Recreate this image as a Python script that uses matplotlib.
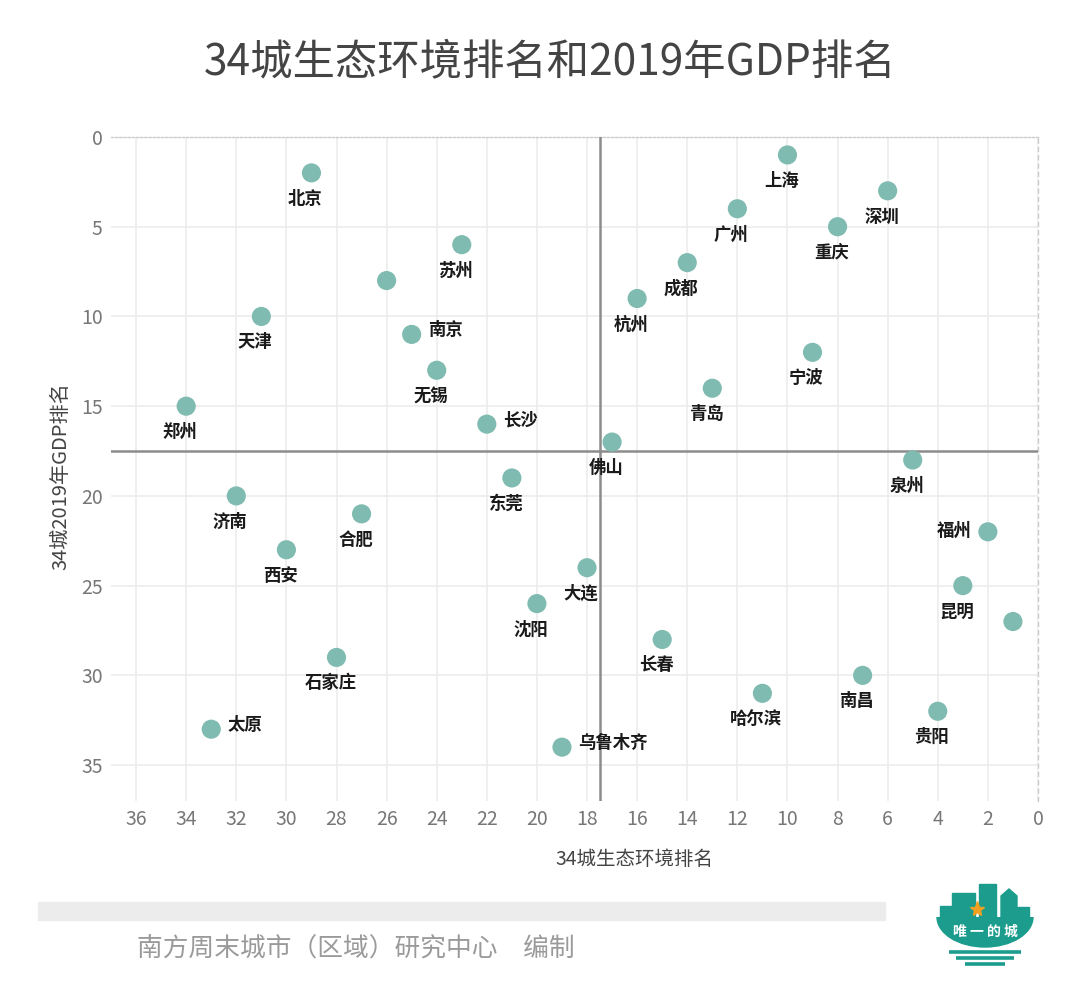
import matplotlib
matplotlib.use("Agg")
import matplotlib.pyplot as plt
from matplotlib.patches import Rectangle, Polygon, Ellipse

plt.rcParams["font.family"] = ["Noto Sans CJK SC", "DejaVu Sans"]

# ---------------------------------------------------------------------------
# Data: (eco ranking, 2019 GDP ranking)
# ---------------------------------------------------------------------------
cities = ["北京", "上海", "深圳", "广州", "重庆", "苏州", "成都", "", "杭州",
          "天津", "南京", "宁波", "无锡", "青岛", "郑州", "长沙", "佛山", "泉州",
          "东莞", "济南", "合肥", "福州", "西安", "大连", "昆明", "沈阳", "",
          "长春", "石家庄", "南昌", "哈尔滨", "贵阳", "太原", "乌鲁木齐"]
eco_rank = [29, 10, 6, 12, 8, 23, 14, 26, 16,
            31, 25, 9, 24, 13, 34, 22, 17, 5,
            21, 32, 27, 2, 30, 18, 3, 20, 1,
            15, 28, 7, 11, 4, 33, 19]
gdp_rank = [2, 1, 3, 4, 5, 6, 7, 8, 9,
            10, 11, 12, 13, 14, 15, 16, 17, 18,
            19, 20, 21, 22, 23, 24, 25, 26, 27,
            28, 29, 30, 31, 32, 33, 34]
# label placement: "b" below, "r" right, "l" left
label_side = ["b", "b", "b", "b", "b", "b", "b", "b", "b",
              "b", "r", "b", "b", "b", "b", "r", "b", "b",
              "b", "b", "b", "l", "b", "b", "b", "b", "b",
              "b", "b", "b", "b", "b", "r", "r"]

x_ticks = list(range(36, -1, -2))
y_ticks = [0, 5, 10, 15, 20, 25, 30, 35]
split = 17.5

DOT = "#7fbbb0"
TEAL = "#1b9c8d"

fig = plt.figure(figsize=(10.8, 9.97), dpi=100)
ax = fig.add_axes([0.1028, 0.1966, 0.8583, 0.666])

ax.scatter(eco_rank, gdp_rank, s=190, color=DOT, edgecolors="none", zorder=5)

for name, x, y, side in zip(cities, eco_rank, gdp_rank, label_side):
    if not name:
        continue
    if side == "b":
        off, ha, va = (-6, -26), "center", "center"
    elif side == "r":
        off, ha, va = (16, 4), "left", "center"
    else:
        off, ha, va = (-16, 1), "right", "center"
    ax.annotate(name, (x, y), xytext=off, textcoords="offset pixels",
                ha=ha, va=va, fontsize=12.5, color="#1a1a1a",
                fontweight="bold", zorder=6)

ax.axvline(split, color="#8c8c8c", lw=1.8, zorder=3)
ax.axhline(split, color="#8c8c8c", lw=1.8, zorder=3)

ax.set_xlim(37, 0)
ax.set_ylim(37, 0)
ax.set_xticks(x_ticks)
ax.set_yticks(y_ticks)
ax.grid(True, color="#ececec", lw=1.2, zorder=0)
ax.set_axisbelow(True)
ax.tick_params(length=0, labelsize=14, labelcolor="#777777")
ax.tick_params(axis="x", pad=6)
ax.tick_params(axis="y", pad=6)

for side in ["left", "bottom"]:
    ax.spines[side].set_visible(False)
ax.spines["top"].set_color("#cccccc")
ax.spines["top"].set_linestyle((0, (1.5, 1.5)))
ax.spines["right"].set_color("#cccccc")
ax.spines["right"].set_linestyle((0, (3, 3)))
ax.spines["top"].set_linewidth(1)
ax.spines["right"].set_linewidth(1)

ax.set_xlabel("34城生态环境排名", fontsize=14, color="#444444")
ax.xaxis.set_label_coords(0.565, -0.072)
ax.set_ylabel("34城2019年GDP排名", fontsize=14.5, color="#444444")
ax.yaxis.set_label_coords(-0.043, 0.49)

fig.text(0.509, 0.938, "34城生态环境排名和2019年GDP排名", ha="center",
         va="center", fontsize=30.5, color="#444444", fontweight="medium")

# footer
fig.patches.append(Rectangle((38 / 1080, 1 - 920 / 997), 847 / 1080, 18 / 997,
                             transform=fig.transFigure, color="#ececec",
                             zorder=0))
fig.text(137 / 1080, 1 - 950 / 997, "南方周末城市（区域）研究中心　编制",
         ha="left", va="center", fontsize=18.5, color="#9a9a9a")

# logo
lg = fig.add_axes([930 / 1080, 1 - 972 / 997, 110 / 1080, 94 / 997])
lg.set_xlim(930, 1040)
lg.set_ylim(972, 878)
lg.axis("off")
clip = Rectangle((930, 917), 110, 40, transform=lg.transData)
body = Ellipse((985, 917), 96, 60, color=TEAL)
lg.add_patch(body)
body.set_clip_path(clip)
lg.add_patch(Rectangle((940, 906), 12, 12, color=TEAL))
lg.add_patch(Rectangle((952, 893), 23, 25, color=TEAL))
lg.add_patch(Rectangle((979, 884), 17, 34, color=TEAL))
lg.add_patch(Polygon([(1001, 918), (1001, 896), (1009, 889), (1017, 896),
                      (1017, 918)], color=TEAL))
lg.add_patch(Rectangle((1017, 907), 12, 11, color=TEAL))
lg.plot([977], [909], marker="*", ms=11, color="#f0a020")
for yy, half in zip([952, 958, 964], [36, 29, 20]):
    lg.plot([985 - half, 985 + half], [yy, yy], color=TEAL, lw=2.6,
            solid_capstyle="butt")
lg.text(985, 932, "唯 一 的 城", ha="center", va="center", fontsize=10,
        color="white", fontweight="bold")

fig.savefig("out.png", dpi=100, facecolor="white")
